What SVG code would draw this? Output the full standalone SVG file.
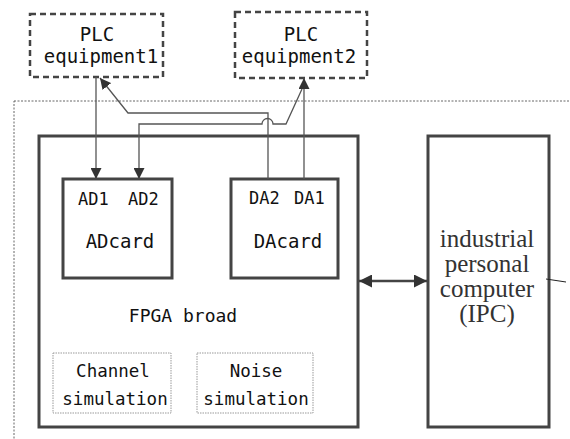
<svg xmlns="http://www.w3.org/2000/svg" width="570" height="439" viewBox="0 0 570 439">
<defs>
<marker id="ah" viewBox="0 0 10 10" refX="10" refY="5" markerWidth="11" markerHeight="11" markerUnits="userSpaceOnUse" orient="auto-start-reverse">
<path d="M0,0 L10,5 L0,10 z" fill="#333"/>
</marker>
<marker id="ah2" viewBox="0 0 10 10" refX="10" refY="5" markerWidth="13" markerHeight="13" markerUnits="userSpaceOnUse" orient="auto-start-reverse">
<path d="M0,0 L10,5 L0,10 z" fill="#333"/>
</marker>
</defs>
<style>
.mono{font-family:"DejaVu Sans Mono","Liberation Mono",monospace;fill:#111}
.serif{font-family:"Liberation Serif","Times New Roman",serif;fill:#333;font-size:25px}
.plc{fill:none;stroke:#444;stroke-width:2.5;stroke-dasharray:6,4}
.box{fill:#fff;stroke:#444;stroke-width:3}
.sim{fill:none;stroke:#999;stroke-width:1;stroke-dasharray:1.5,1}
.conn{fill:none;stroke:#555;stroke-width:1.3}
</style>
<rect width="570" height="439" fill="#fff"/>
<g id="outer">
<rect x="14" y="101" width="600" height="400" fill="none" stroke="#666" stroke-width="1" stroke-dasharray="2,1.5"/>
</g>
<g id="plc1">
<rect class="plc" x="30" y="14" width="133" height="63"/>
<text class="mono" x="97" y="41" font-size="19" text-anchor="middle">PLC</text>
<text class="mono" x="101" y="63" font-size="19" text-anchor="middle">equipment1</text>
</g>
<g id="plc2">
<rect class="plc" x="235" y="12" width="132" height="66"/>
<text class="mono" x="301" y="41" font-size="19" text-anchor="middle">PLC</text>
<text class="mono" x="299" y="63" font-size="19" text-anchor="middle">equipment2</text>
</g>
<g id="fpga">
<rect class="box" x="39" y="136" width="319" height="291"/>
<text class="mono" x="183" y="322" font-size="18" text-anchor="middle">FPGA broad</text>
</g>
<g id="adcard">
<rect class="box" x="63" y="179" width="109" height="99"/>
<text class="mono" x="78" y="205" font-size="17">AD1</text>
<text class="mono" x="128" y="205" font-size="17">AD2</text>
<text class="mono" x="120" y="248" font-size="19" text-anchor="middle">ADcard</text>
</g>
<g id="dacard">
<rect class="box" x="231" y="179" width="107" height="99"/>
<text class="mono" x="249" y="204" font-size="17">DA2</text>
<text class="mono" x="294" y="204" font-size="17">DA1</text>
<text class="mono" x="288" y="248" font-size="19" text-anchor="middle">DAcard</text>
</g>
<g id="channel">
<rect class="sim" x="53" y="353" width="118" height="60"/>
<text class="mono" x="113" y="377" font-size="17.5" text-anchor="middle">Channel</text>
<text class="mono" x="115" y="405" font-size="17.5" text-anchor="middle">simulation</text>
</g>
<g id="noise">
<rect class="sim" x="197" y="353" width="116" height="60"/>
<text class="mono" x="256" y="377" font-size="17.5" text-anchor="middle">Noise</text>
<text class="mono" x="256" y="405" font-size="17.5" text-anchor="middle">simulation</text>
</g>
<g id="ipc">
<rect class="box" x="428" y="136" width="121" height="291"/>
<text class="serif" x="487" y="247" text-anchor="middle">industrial</text>
<text class="serif" x="487" y="272" text-anchor="middle">personal</text>
<text class="serif" x="487" y="297" text-anchor="middle">computer</text>
<text class="serif" x="487" y="322" text-anchor="middle">(IPC)</text>
</g>
<g id="connectors">
<line class="conn" x1="96" y1="77" x2="96" y2="179" marker-end="url(#ah)"/>
<path class="conn" d="M268,179 V113 H128 L100,78" marker-end="url(#ah)"/>
<path class="conn" d="M139,179 V124 H262 A5.5,5.5 0 0 1 273,124 H286 L302,89" marker-start="url(#ah)"/>
<line class="conn" x1="304" y1="179" x2="304" y2="78" marker-end="url(#ah)"/>
<line x1="359" y1="281" x2="427" y2="281" stroke="#444" stroke-width="2.5" marker-start="url(#ah2)" marker-end="url(#ah2)"/>
<line x1="546" y1="279" x2="566" y2="282" stroke="#222" stroke-width="1"/>
</g>
</svg>
